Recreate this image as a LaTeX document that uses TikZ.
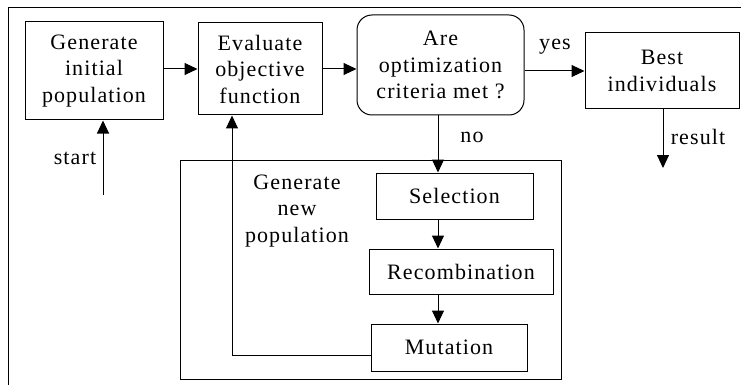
\documentclass[tikz,border=0pt]{standalone}
\usepackage{fontspec}
\setmainfont{Liberation Serif}[LetterSpace=5]
\usetikzlibrary{arrows.meta,calc}
\begin{document}
\begin{tikzpicture}[x=1pt,y=-1pt,
  every node/.style={font=\fontsize{22}{26.5}\selectfont, inner sep=0pt},
  box/.style={draw, line width=1pt, align=center, minimum width=#1},
  lbl/.style={align=center},
  arr/.style={line width=1pt, -{Triangle[length=13pt,width=12pt]}},
  ln/.style={line width=1pt}
]
\useasboundingbox (0,0) rectangle (741,385);
\draw[ln] (8,385) -- (8,8) -- (741,8);

\node[box=138, minimum height=98] (gen) at (94,71) {Generate\\initial\\population};
\node[box=124, minimum height=92] (eval) at (260,69) {Evaluate\\objective\\function};
\node[box=167, minimum height=100, rounded corners=15pt] (are) at (440.5,65) {Are\\optimization\\criteria met ?};
\node[box=154, minimum height=76] (best) at (662,71) {Best\\individuals};

\node[box=381, minimum height=219] (newpop) at (370.5,269.5) {};
\node[lbl] (newpoptxt) at (297,211) {Generate\\new\\population};

\node[box=157, minimum height=46, fill=white] (sel) at (454.5,196) {Selection};
\node[box=184, minimum height=45, fill=white] (rec) at (461,271.5) {Recombination};
\node[box=156, minimum height=47, fill=white] (mut) at (449,347.5) {Mutation};

\coordinate (spine) at (438,0);
\coordinate (fb) at (232,355);
\coordinate (st) at (103,195);
\coordinate (res) at (663,168);

\draw[arr] (eval.west -| gen.east) -- (eval.west);
\draw[arr] (eval.east) -- (eval.east -| are.west);
\draw[arr] (are.east |- best.west) -- (best.west);
\draw[arr] (spine |- are.south) -- (spine |- sel.north);
\draw[arr] (spine |- sel.south) -- (spine |- rec.north);
\draw[arr] (spine |- rec.south) -- (spine |- mut.north);
\draw[arr] (fb -| mut.west) -- (fb) -- (fb |- eval.south);
\draw[arr] (st) -- (st |- gen.south);
\draw[arr] (res |- best.south) -- (res);

\node[lbl] (startl) at (75,158) {start};
\node[lbl] (yesl) at (555,47) {yes};
\node[lbl] (nol) at (472,137) {no};
\node[lbl] (resl) at (698,137) {result};
\end{tikzpicture}
\end{document}
